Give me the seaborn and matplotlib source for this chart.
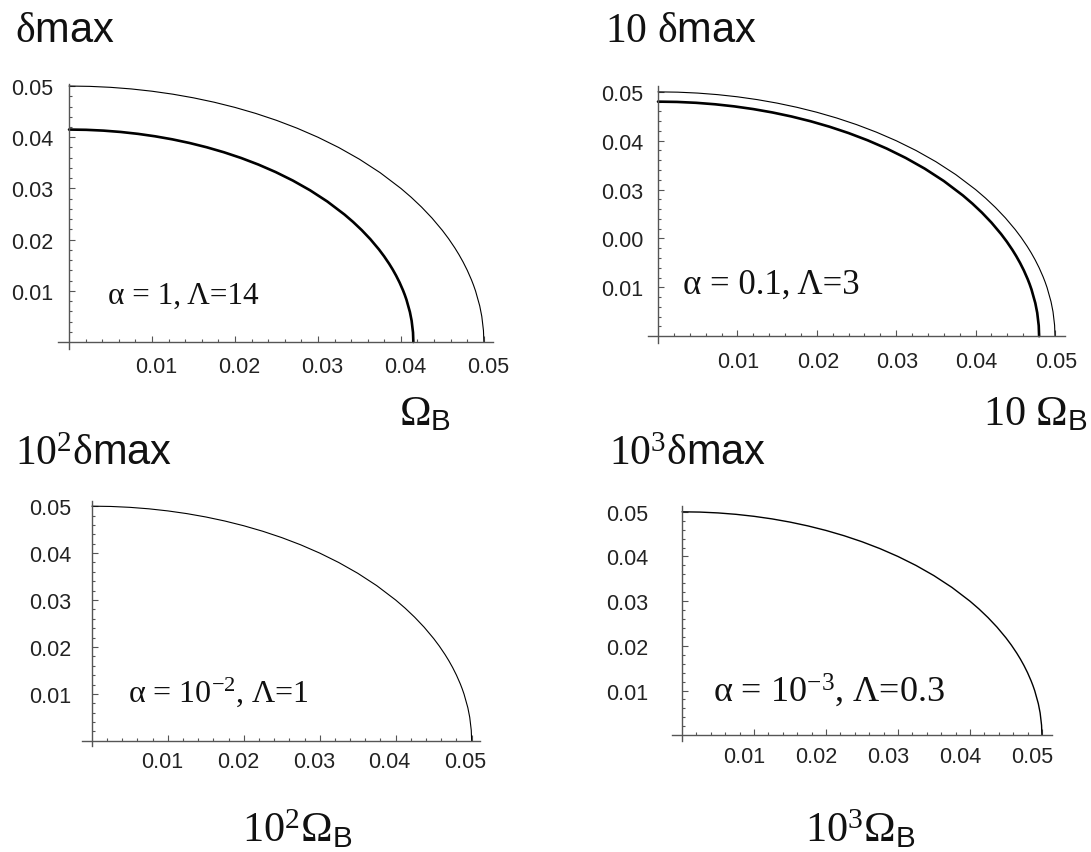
import numpy as np
import pandas as pd
import matplotlib
matplotlib.use("Agg")
import matplotlib.pyplot as plt
from matplotlib.ticker import FixedLocator, FixedFormatter
from matplotlib.transforms import ScaledTranslation
import seaborn as sns

# ---------------- data ----------------
# outer (thin) curve, radius ~0.05
x_outer = [0, .0025, .005, .0075, .01, .0125, .015, .0175, .02, .0225, .025, .0275,
           .03, .0325, .035, .0375, .04, .04125, .0425, .04375, .045, .04575, .0465,
           .047, .0475, .048, .0485, .04875, .049, .0495, .04975, .04995, .05]
y_outer = [.05, .049938, .049750, .049435, .04899, .048413, .047697, .046838, .045826,
           .044652, .043302, .041758, .04, .037997, .035707, .033072, .03, .028257,
           .026339, .024206, .021795, .020173, .018378, .017059, .015613, .014, .012155,
           .01111, .00995, .007054, .004994, .002236, 0]
# panel 1 inner (thick) curve
x_in1 = [0, .002075, .00415, .006225, .0083, .010375, .01245, .014525, .0166, .018675,
         .02075, .022825, .0249, .026975, .02905, .031125, .0332, .0342375, .035275,
         .0363125, .03735, .0379725, .038595, .03901, .039425, .03984, .040255,
         .0404625, .04067, .041085, .0412925, .0414585, .0415]
y_in1 = [.0415, .041448, .041292, .041031, .040662, .040182, .039589, .038875, .038036,
         .037061, .03594, .034659, .0332, .031537, .029637, .02745, .0249, .023453,
         .021861, .020091, .018089, .016743, .015254, .014159, .012958, .01162, .010089,
         .009221, .008259, .005854, .004145, .001855, 0]
# panel 2 inner (thick) curve
x_in2 = [0, .0024, .0048, .0072, .0096, .012, .0144, .0168, .0192, .0216, .024, .0264,
         .0288, .0312, .0336, .036, .0384, .0396, .0408, .042, .0432, .04392, .04464,
         .04512, .0456, .04608, .04656, .0468, .04704, .04752, .04776, .047952, .048]
y_in2 = [.048, .04794, .04776, .047457, .04703, .046476, .045789, .044964, .043993,
         .042865, .041569, .040088, .0384, .036477, .034279, .031749, .0288, .027126,
         .025285, .023238, .020923, .019366, .017643, .016376, .014988, .01344, .011669,
         .010666, .009552, .006771, .004794, .002146, 0]

x_ticks = [0.01, 0.02, 0.03, 0.04, 0.05]
x_ticklabels = ["0.01", "0.02", "0.03", "0.04", "0.05"]
y_ticks = [0.01, 0.02, 0.03, 0.04, 0.05]
y_ticklabels_std = ["0.01", "0.02", "0.03", "0.04", "0.05"]
y_ticklabels_p2 = ["0.01", "0.00", "0.03", "0.04", "0.05"]
minor_ticks = [0.002, 0.004, 0.006, 0.008, 0.012, 0.014, 0.016, 0.018,
               0.022, 0.024, 0.026, 0.028, 0.032, 0.034, 0.036, 0.038,
               0.042, 0.044, 0.046, 0.048]

titles = ["$\\delta\\mathsf{max}$", "10 $\\delta\\mathsf{max}$",
          "$10^{2}\\delta\\mathsf{max}$", "$10^{3}\\delta\\mathsf{max}$"]
xlabels = ["$\\Omega_{\\mathsf{B}}$", "10 $\\Omega_{\\mathsf{B}}$",
           "$10^{2}\\Omega_{\\mathsf{B}}$", "$10^{3}\\Omega_{\\mathsf{B}}$"]
annots = ["α = 1, Λ=14", "α = 0.1, Λ=3", "α = $10^{-2}$, Λ=1", "α = $10^{-3}$, Λ=0.3"]

# ---------------- style ----------------
sns.set_theme(style="white")
plt.rcParams["font.family"] = ["Liberation Serif", "DejaVu Serif"]
plt.rcParams["mathtext.fontset"] = "custom"
plt.rcParams["mathtext.rm"] = "Liberation Serif"
plt.rcParams["mathtext.it"] = "Liberation Serif:italic"
plt.rcParams["mathtext.sf"] = "Liberation Sans"
plt.rcParams["mathtext.default"] = "regular"

W, H = 1091, 853
fig = plt.figure(figsize=(W / 100, H / 100), dpi=100)
fig.patch.set_facecolor("white")

def px(x, y):
    return x / W, 1 - y / H

panels = [
    dict(box=(58, 493, 85, 350), xlim=(-0.00133, 0.0511), ylim=(-0.00137, 0.0504),
         ypad=11.5, xpad=11.0, dx=4, ylab=y_ticklabels_std, afs=22.5,
         series=[(x_outer, y_outer, 0.8), (x_in1, y_in1, 1.9)]),
    dict(box=(648, 1065, 87, 344), xlim=(-0.00126, 0.05126), ylim=(-0.0014, 0.0512),
         ypad=10.8, xpad=12.0, dx=1, ylab=y_ticklabels_p2, afs=25,
         series=[(x_outer, y_outer, 0.8), (x_in2, y_in2, 1.9)]),
    dict(box=(82, 480, 502, 747), xlim=(-0.0013, 0.0511), ylim=(-0.0011, 0.0511),
         ypad=15.0, xpad=8.5, dx=-6, ylab=y_ticklabels_std, afs=23,
         series=[(x_outer, y_outer, 0.8)]),
    dict(box=(672, 1052, 507, 742), xlim=(-0.0014, 0.0514), ylim=(-0.0013, 0.0513),
         ypad=24.0, xpad=9.0, dx=-10, ylab=y_ticklabels_std, afs=26,
         series=[(x_outer, y_outer, 1.0)]),
]
ann_pos = [(108, 304), (683, 294), (128, 702), (713, 702)]

axis_col = "#555555"
for p, t, (axx, axy) in zip(panels, annots, ann_pos):
    L, R, T, B = p["box"]
    ax = fig.add_axes([L / W, 1 - B / H, (R - L) / W, (B - T) / H])
    ax.set_facecolor("none")
    for xs, ys, lw in p["series"]:
        df = pd.DataFrame({"x": xs, "y": ys})
        sns.lineplot(data=df, x="x", y="y", ax=ax, color="black", linewidth=lw,
                     sort=False, estimator=None)
    ax.set_xlim(*p["xlim"])
    ax.set_ylim(*p["ylim"])
    ax.set_xlabel("")
    ax.set_ylabel("")
    for s in ["top", "right"]:
        ax.spines[s].set_visible(False)
    for s in ["left", "bottom"]:
        ax.spines[s].set_position(("data", 0))
        ax.spines[s].set_color(axis_col)
        ax.spines[s].set_linewidth(1.0)
    ax.xaxis.set_major_locator(FixedLocator(x_ticks))
    ax.xaxis.set_major_formatter(FixedFormatter(x_ticklabels))
    ax.yaxis.set_major_locator(FixedLocator(y_ticks))
    ax.yaxis.set_major_formatter(FixedFormatter(p["ylab"]))
    ax.xaxis.set_minor_locator(FixedLocator(minor_ticks))
    ax.yaxis.set_minor_locator(FixedLocator(minor_ticks))
    ax.tick_params(which="both", direction="in", color=axis_col, width=0.8,
                   bottom=True, left=True, top=False, right=False)
    ax.tick_params(which="major", length=4.0)
    ax.tick_params(which="minor", length=2.2)
    ax.tick_params(axis="y", which="major", pad=p["ypad"], labelsize=15.5,
                   labelcolor="#222222")
    ax.tick_params(axis="x", which="major", pad=p["xpad"] - 1, labelsize=15.5,
                   labelcolor="#222222")
    for lab in ax.get_xticklabels() + ax.get_yticklabels():
        lab.set_fontfamily(["Liberation Sans", "DejaVu Sans"])
    off = ScaledTranslation(p["dx"] / 100, 0, fig.dpi_scale_trans)
    for lab in ax.get_xticklabels():
        lab.set_transform(lab.get_transform() + off)
    fig.text(*px(axx, axy), t, fontsize=p["afs"], ha="left", va="baseline",
             color="#111111")

# titles
title_pos = [(15, 42), (605, 42), (15, 465), (609, 465)]
for t, (x, y) in zip(titles, title_pos):
    fig.text(*px(x, y), t, fontsize=30, ha="left", va="baseline", color="#111111")

# x labels
xlab_pos = [(399, 425), (983, 425), (242, 842), (805, 842)]
for t, (x, y) in zip(xlabels, xlab_pos):
    fig.text(*px(x, y), t, fontsize=30.5, ha="left", va="baseline", color="#111111")

fig.savefig("out.png", dpi=100, facecolor="white")
